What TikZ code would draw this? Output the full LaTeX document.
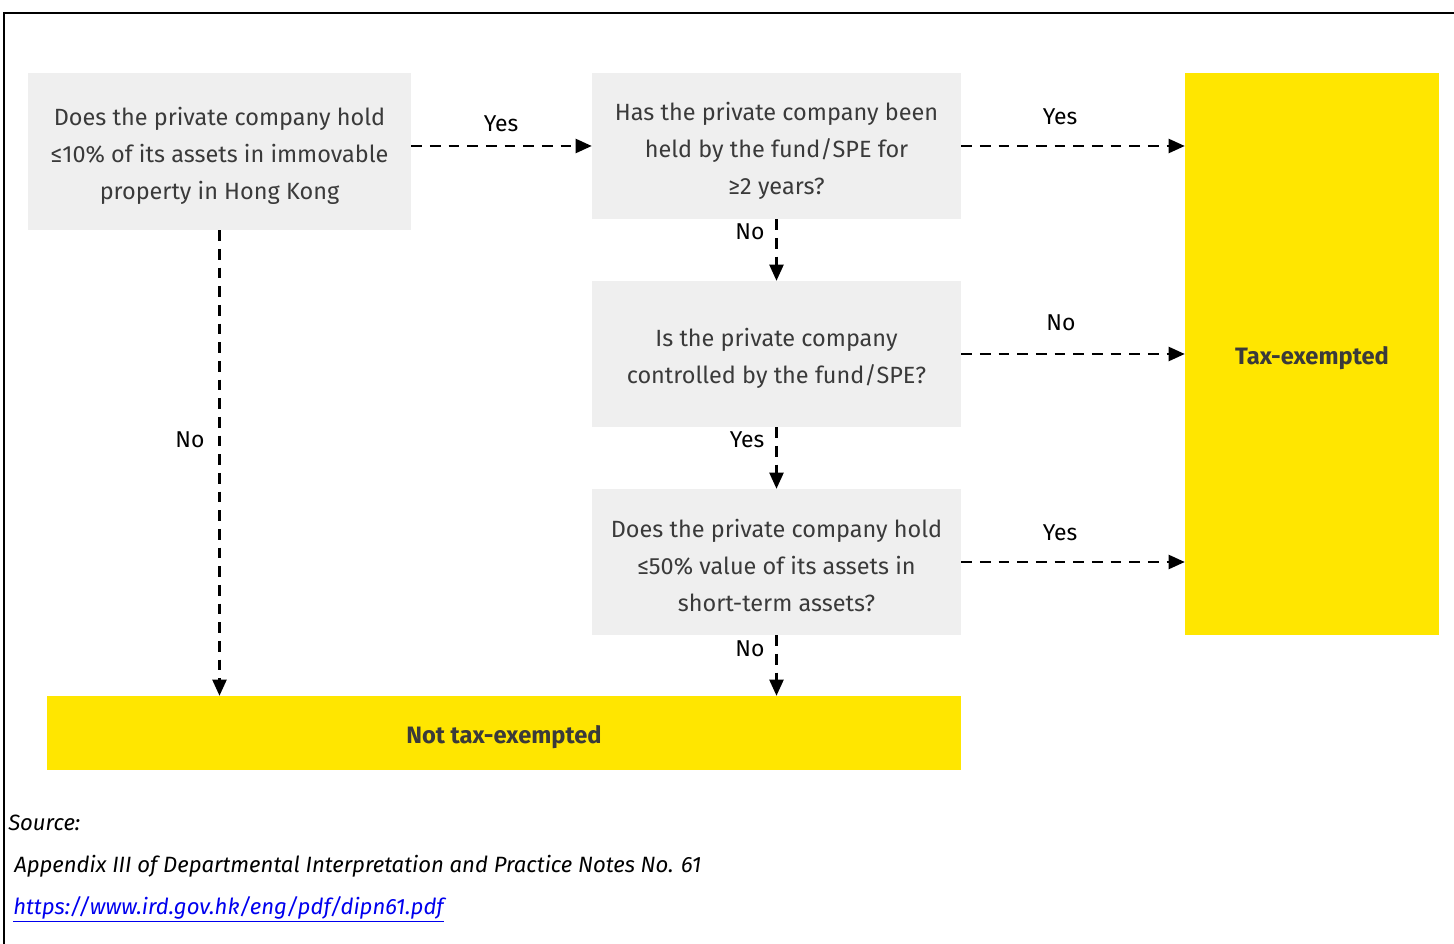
\documentclass[tikz,border=0pt]{standalone}
\usepackage{fontspec}
\setmainfont{Fira Sans}
\usetikzlibrary{arrows.meta}
\definecolor{boxgray}{HTML}{EFEFEF}
\definecolor{eyyellow}{HTML}{FFE600}
\definecolor{txtgray}{HTML}{3A3A3A}
\definecolor{linkblue}{HTML}{0000EE}
\tikzset{
  qbox/.style={fill=boxgray, inner sep=0pt},
  qtext/.style={text=txtgray, align=center, inner sep=0pt,
    font=\fontsize{17.6}{27.75}\selectfont},
  ybox/.style={fill=eyyellow, text=txtgray, align=center, inner sep=0pt,
    font=\fontsize{17.8}{20}\selectfont\bfseries},
  flow/.style={line width=1.6pt, dash pattern=on 8pt off 6pt,
    -{Triangle[length=12pt,width=10.5pt]}},
  lbl/.style={font=\fontsize{17.2}{20}\selectfont, text=black, inner sep=0pt},
  src/.style={font=\fontsize{16.6}{18}\selectfont\itshape, anchor=west, inner sep=0pt}
}
\begin{document}
\begin{tikzpicture}[x=0.75pt,y=-0.75pt]
\useasboundingbox (0,0) rectangle (1454,944);
\draw[line width=0.8pt] (1454,13) -- (4,13) -- (4,944);

\node[qbox, minimum width=287.25pt, minimum height=117.75pt] (A) at (219.5,151.5) {};
\node[qbox, minimum width=276.75pt, minimum height=109.5pt] (B) at (776.5,146) {};
\node[qbox, minimum width=276.75pt, minimum height=109.5pt] (C) at (776.5,354) {};
\node[qbox, minimum width=276.75pt, minimum height=109.5pt] (D) at (776.5,562) {};
\node[qtext] (At) at (219.5,155.5)
  {Does the private company hold\\≤10\% of its assets in immovable\\property in Hong Kong};
\node[qtext] (Bt) at (776.5,150.5)
  {Has the private company been\\held by the fund/SPE for\\≥2 years?};
\node[qtext] (Ct) at (776.5,358.5)
  {Is the private company\\controlled by the fund/SPE?};
\node[qtext] (Dt) at (776.5,565)
  {Does the private company hold\\≤50\% value of its assets in\\short-term assets?};
\node[ybox, minimum width=190.5pt, minimum height=421.5pt] (T) at (1312,354) {};
\node[ybox] (Tt) at (1312,358) {Tax-exempted};
\node[ybox, minimum width=685.5pt, minimum height=55.5pt] (N) at (504,733) {};
\node[ybox] (Nt) at (504,737) {Not tax-exempted};

\draw[flow] (A.east |- B.west) -- (B.west);
\draw[flow] (B.east) -- (B.east -| T.west);
\draw[flow] (C.east) -- (C.east -| T.west);
\draw[flow] (D.east) -- (D.east -| T.west);
\draw[flow] (B.south) -- (C.north);
\draw[flow] (C.south) -- (D.north);
\draw[flow] (D.south) -- (D.south |- N.north);
\draw[flow] (A.south) -- (A.south |- N.north);

\node[lbl] (l1) at (501,124) {Yes};
\node[lbl] (l2) at (1060,117) {Yes};
\node[lbl] (l3) at (750,232) {No};
\node[lbl] (l4) at (1061,323) {No};
\node[lbl] (l5) at (747,440) {Yes};
\node[lbl] (l6) at (1060,533) {Yes};
\node[lbl] (l7) at (750,649) {No};
\node[lbl] (l8) at (190,440) {No};

\node[src] (s1) at (8,823) {Source:};
\node[src] (s2) at (14,866) {Appendix III of Departmental Interpretation and Practice Notes No. 61};
\node[src, text=linkblue] (s3) at (13,909) {\underline{https://www.ird.gov.hk/eng/pdf/dipn61.pdf}};
\end{tikzpicture}
\end{document}
